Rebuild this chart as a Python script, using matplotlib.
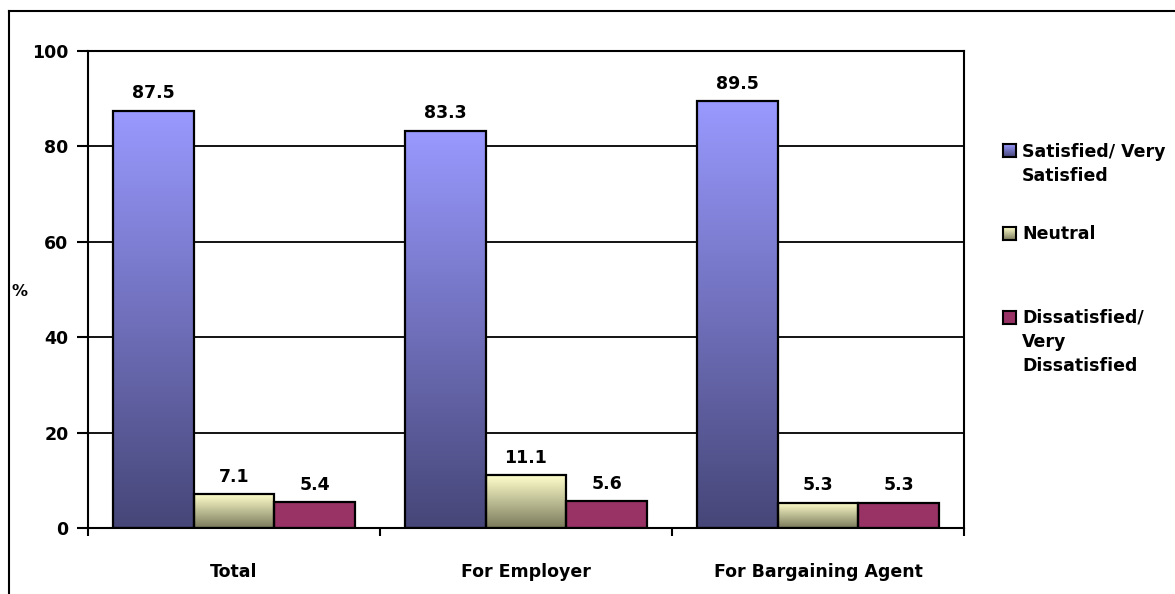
import matplotlib
matplotlib.use("Agg")
import matplotlib.pyplot as plt
import numpy as np
from matplotlib.colors import LinearSegmentedColormap
from matplotlib.lines import Line2D

categories = ["Total", "For Employer", "For Bargaining Agent"]
series_names = ["Satisfied/ Very\nSatisfied", "Neutral", "Dissatisfied/\nVery\nDissatisfied"]
satisfied = [87.5, 83.3, 89.5]
neutral = [7.1, 11.1, 5.3]
dissatisfied = [5.4, 5.6, 5.3]
yticks = [0, 20, 40, 60, 80, 100]

series = [satisfied, neutral, dissatisfied]
grads = [("#464678", "#9999FF"), ("#7A7A5C", "#FFFFCC"), ("#993366", "#993366")]

FONT = "DejaVu Sans"
FS = 12.5

fig = plt.figure(figsize=(11.75, 5.94), dpi=100)
W, H = 1175, 594
ax = fig.add_axes([88 / W, 1 - 528 / H, (964 - 88) / W, (528 - 51) / H])

# figure frame (top and left visible)
fig.add_artist(Line2D([9 / W, 1.0], [1 - 11 / H, 1 - 11 / H], color="black", lw=1.5, transform=fig.transFigure))
fig.add_artist(Line2D([9 / W, 9 / W], [1 - 11 / H, 0.0], color="black", lw=1.5, transform=fig.transFigure))

x = np.arange(len(categories))
bw = 0.277
offsets = [-bw, 0, bw]

for yv in yticks[1:]:
    ax.axhline(yv, color="black", lw=1.3, zorder=1)

for vals, off, (c0, c1) in zip(series, offsets, grads):
    cmap = LinearSegmentedColormap.from_list("g", [c0, c1])
    bars = ax.bar(x + off, vals, width=bw, facecolor="none", edgecolor="black", lw=1.6, zorder=3)
    for rect, v in zip(bars, vals):
        x0 = rect.get_x()
        grad = np.linspace(0, 1, 256).reshape(-1, 1)
        im = ax.imshow(grad, cmap=cmap, origin="lower", aspect="auto",
                       extent=(x0, x0 + bw, 0, v), zorder=2, interpolation="bilinear")
        im.set_clip_path(rect)
        ax.annotate(f"{v:.1f}", (x0 + bw / 2, v), xytext=(0, 6), textcoords="offset points",
                    ha="center", va="bottom", fontsize=FS, fontweight="bold", family=FONT)

ax.set_xlim(-0.5, 2.5)
ax.set_ylim(0, 100)
for s in ax.spines.values():
    s.set_linewidth(1.5)
    s.set_zorder(4)

ax.set_yticks(yticks)
ax.set_yticklabels([str(v) for v in yticks], fontsize=FS, fontweight="bold", family=FONT)
ax.tick_params(axis="y", length=8, width=1.5, pad=6)

ax.set_xticks(x)
ax.set_xticklabels(categories, fontsize=FS, fontweight="bold", family=FONT)
ax.set_xticks([-0.5, 0.5, 1.5, 2.5], minor=True)
ax.tick_params(axis="x", which="major", length=0, pad=25)
ax.tick_params(axis="x", which="minor", length=6, width=1.5, direction="out")

fig.text(20 / W, 1 - 292 / H, "%", fontsize=FS - 1, fontweight="bold", family=FONT, ha="center", va="center")

# legend
marker_y = [150, 233, 317]
text_top = [143, 225, 309]
for (c0, c1), name, my, ty in zip(grads, series_names, marker_y, text_top):
    lax = fig.add_axes([1003 / W, 1 - (my + 7) / H, 13 / W, 13 / H])
    cmap = LinearSegmentedColormap.from_list("g", [c0, c1])
    lax.imshow(np.linspace(0, 1, 64).reshape(-1, 1), cmap=cmap, origin="lower", aspect="auto")
    lax.set_xticks([]); lax.set_yticks([])
    for s in lax.spines.values():
        s.set_linewidth(1.5)
    fig.text(1022 / W, 1 - ty / H, name, fontsize=FS, fontweight="bold", family=FONT,
             ha="left", va="top", linespacing=1.44)

fig.savefig("out.png", dpi=100)
